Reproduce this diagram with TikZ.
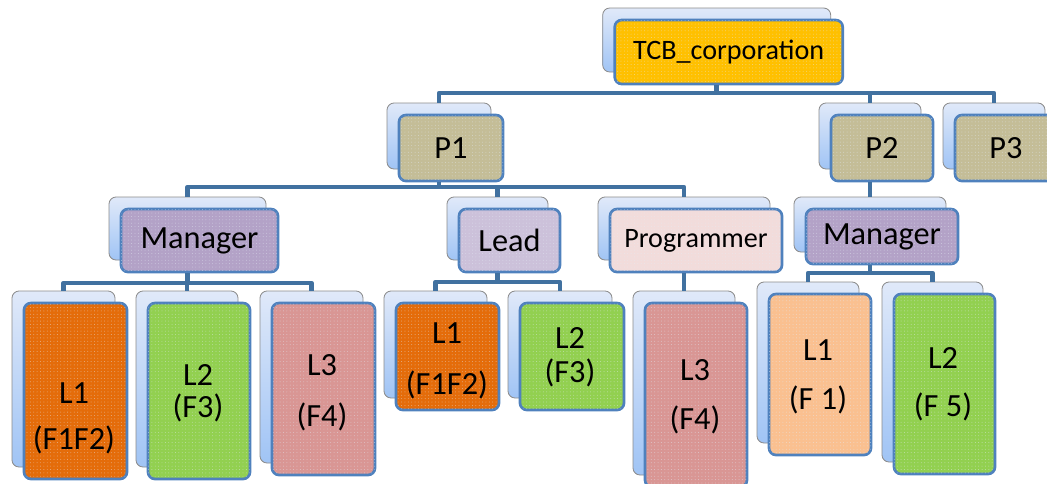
\documentclass[tikz,border=0pt]{standalone}
\usepackage{fontspec}
\setmainfont{Carlito}
\usetikzlibrary{patterns.meta}
\definecolor{linkblue}{RGB}{65,113,160}
\definecolor{frameblue}{RGB}{79,129,189}
\definecolor{backtop}{RGB}{224,233,249}
\definecolor{backbot}{RGB}{160,196,245}
\definecolor{gold}{RGB}{255,192,0}
\definecolor{khaki}{RGB}{196,189,151}
\definecolor{mauve}{RGB}{179,162,199}
\definecolor{lavender}{RGB}{204,193,218}
\definecolor{blush}{RGB}{242,220,219}
\definecolor{pumpkin}{RGB}{228,108,10}
\definecolor{lime}{RGB}{146,208,80}
\definecolor{rose}{RGB}{217,150,148}
\definecolor{peach}{RGB}{250,192,144}
\def\pxu{0.025cm}
% back card, front card (offset) and its text
\newcommand{\orgbox}[7]{%
  \node[backbox, minimum width=#4*\pxu, minimum height=#5*\pxu] (#1B) at (#2,#3) {};
  \node[frontbox, fill=#6, minimum width=#4*\pxu, minimum height=#5*\pxu] (#1) at ([shift={(12,12)}]#1B.center) {#7};
}
\begin{document}
\begin{tikzpicture}[x=0.025cm, y=-0.025cm, line join=round,
    backbox/.style={draw=gray!90, line width=0.6pt, rounded corners=5pt, inner sep=0pt,
      top color=backtop, bottom color=backbot},
    frontbox/.style={draw=frameblue, line width=1.9pt, rounded corners=5pt, inner sep=0pt,
      font=\fontsize{23}{26}\selectfont,
      postaction={pattern={Dots[distance=2.4pt,radius=0.35pt]}, pattern color=white!85!frameblue, fill opacity=0.55}},
    lbl/.style={font=\fontsize{23}{26}\selectfont, inner sep=0pt},
    link/.style={draw=linkblue, line width=3.2pt}]
  \useasboundingbox (0,0) rectangle (1047,483);
  \coordinate (bus0) at (0,93);
  \coordinate (bus1) at (0,187);
  \coordinate (bus2) at (0,283);
  \coordinate (bus3) at (0,282);
  \coordinate (bus4) at (0,273);
  %
  \orgbox{tcb}{716.7}{40}{228}{64}{gold}{\fontsize{20}{23}\selectfont TCB\_corporation}
  \orgbox{pa}{439}{136}{104}{66}{khaki}{P1}
  \orgbox{pb}{870}{136}{102}{66}{khaki}{P2}
  \orgbox{pc}{994}{136}{102}{66}{khaki}{P3}
  \orgbox{mana}{187.5}{228.5}{157}{63}{mauve}{Manager}
  \orgbox{lead}{497.5}{228.5}{101}{63}{lavender}{Lead}
  \orgbox{prog}{684}{228.5}{172}{63}{blush}{\fontsize{20}{23}\selectfont Programmer}
  \orgbox{manb}{870}{224.5}{152}{55}{mauve}{Manager}
  \orgbox{laa}{63.5}{379}{103}{176}{pumpkin}{}
  \orgbox{lab}{187}{379}{102}{176}{lime}{}
  \orgbox{lac}{311.5}{377}{103}{172}{rose}{}
  \orgbox{lba}{435.5}{344.5}{103}{107}{pumpkin}{}
  \orgbox{lbb}{560}{344.5}{104}{107}{lime}{}
  \orgbox{lbc}{684}{383}{102}{184}{rose}{}
  \orgbox{lca}{808}{362.5}{102}{161}{peach}{}
  \orgbox{lcb}{932.5}{372}{101}{180}{lime}{}
  % level labels
  \node[lbl] (laaT) at (74,393) {L1};   \node[lbl] (laaF) at (74,440) {(F1F2)};
  \node[lbl] (labT) at (198,375) {L2};  \node[lbl] (labF) at (198,408) {(F3)};
  \node[lbl] (lacT) at (322,365) {L3};  \node[lbl] (lacF) at (322,417) {(F4)};
  \node[lbl] (lbaT) at (447,333) {L1};  \node[lbl] (lbaF) at (447,385) {(F1F2)};
  \node[lbl] (lbbT) at (570,338) {L2};  \node[lbl] (lbbF) at (570,373) {(F3)};
  \node[lbl] (lbcT) at (695,370) {L3};  \node[lbl] (lbcF) at (695,420) {(F4)};
  \node[lbl] (lcaT) at (818,350) {L1};  \node[lbl] (lcaF) at (818,400) {(F 1)};
  \node[lbl] (lcbT) at (943,358) {L2};  \node[lbl] (lcbF) at (943,407) {(F 5)};
  % tree links
  \draw[link] (tcbB |- tcb.south) -- (tcbB |- bus0) -| (paB.north);
  \draw[link] (tcbB |- bus0) -| (pbB.north);
  \draw[link] (tcbB |- bus0) -| (pcB.north);
  \draw[link] (paB |- pa.south) -- (paB |- bus1) -| (manaB.north);
  \draw[link] (paB |- bus1) -| (leadB.north);
  \draw[link] (paB |- bus1) -| (progB.north);
  \draw[link] (pbB |- pb.south) -- (manbB.north);
  \foreach \k in {laa,lab,lac}
    \draw[link] (manaB |- mana.south) -- (manaB |- bus2) -| (\k B.north);
  \foreach \k in {lba,lbb}
    \draw[link] (leadB |- lead.south) -- (leadB |- bus3) -| (\k B.north);
  \draw[link] (progB |- prog.south) -- (lbcB.north);
  \foreach \k in {lca,lcb}
    \draw[link] (manbB |- manb.south) -- (manbB |- bus4) -| (\k B.north);
\end{tikzpicture}
\end{document}
